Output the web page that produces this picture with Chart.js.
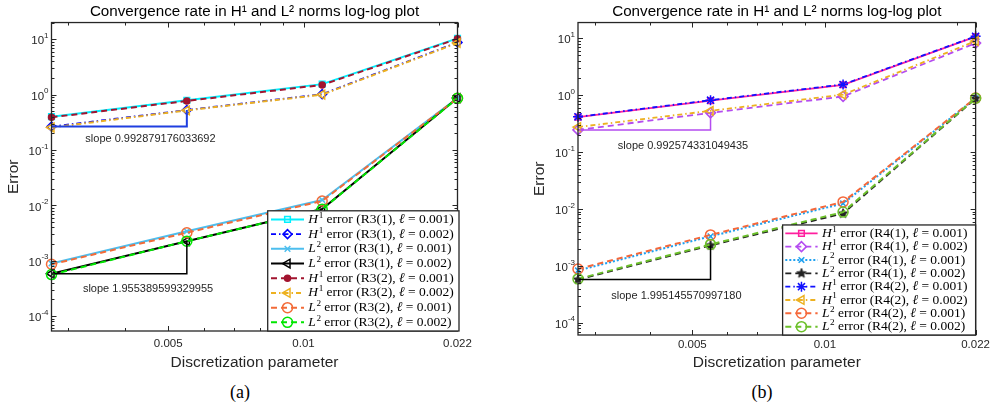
<!DOCTYPE html>
<html lang="en">
<head>
<meta charset="UTF-8">
<title>Convergence rate</title>
<script src="https://cdn.jsdelivr.net/npm/chart.js"></script>
<style>
  body { margin: 0; background: #fff; width: 993px; height: 412px; overflow: hidden; position: relative; }
  .panel { position: absolute; top: 0; height: 380px; }
  #pa { left: 0; width: 496px; }
  #pb { left: 496px; width: 497px; }
  .cap { position: absolute; top: 382px; width: 40px; text-align: center; line-height: 20px;
         font: 18px 'Liberation Serif', 'Times New Roman', serif; color: #000; }
</style>
</head>
<body>
<div class="panel" id="pa"><canvas id="chartA"></canvas></div>
<div class="panel" id="pb"><canvas id="chartB"></canvas></div>
<div class="cap" style="left:220px">(a)</div>
<div class="cap" style="left:742px">(b)</div>
<script>
// discretization parameter and tick labels
const h = [0.00275, 0.0055, 0.011, 0.022];
const xTickLabels = ['0.005', '0.01', '0.022'];
const yTickExps = [1, 0, -1, -2, -3, -4];

// (a) R3 errors
const labelsA = [
    'H¹ error (R3(1), ℓ = 0.001)',
    'H¹ error (R3(1), ℓ = 0.002)',
    'L² error (R3(1), ℓ = 0.001)',
    'L² error (R3(1), ℓ = 0.002)',
    'H¹ error (R3(2), ℓ = 0.001)',
    'H¹ error (R3(2), ℓ = 0.002)',
    'L² error (R3(2), ℓ = 0.001)',
    'L² error (R3(2), ℓ = 0.002)'
];
const r31H1_001 = [0.40, 0.79, 1.55, 10.4];
const r31H1_002 = [0.265, 0.527, 1.02, 8.8];
const r31L2_001 = [8.9e-4, 3.4e-3, 1.25e-2, 0.87];
const r31L2_002 = [5.8e-4, 2.25e-3, 8.6e-3, 0.87];
const r32H1_001 = [0.39, 0.77, 1.5, 10.2];
const r32H1_002 = [0.255, 0.52, 1.0, 8.6];
const r32L2_001 = [8.6e-4, 3.2e-3, 1.2e-2, 0.86];
const r32L2_002 = [5.6e-4, 2.25e-3, 8.5e-3, 0.86];
const slopeLabelsA = ['slope 0.992879176033692', 'slope 1.955389599329955'];

// (b) R4 errors
const labelsB = [
    'H¹ error (R4(1), ℓ = 0.001)',
    'H¹ error (R4(1), ℓ = 0.002)',
    'L² error (R4(1), ℓ = 0.001)',
    'L² error (R4(1), ℓ = 0.002)',
    'H¹ error (R4(2), ℓ = 0.001)',
    'H¹ error (R4(2), ℓ = 0.002)',
    'L² error (R4(2), ℓ = 0.001)',
    'L² error (R4(2), ℓ = 0.002)'
];
const r41H1_001 = [0.41, 0.80, 1.52, 10.7];
const r41H1_002 = [0.245, 0.488, 0.95, 8.2];
const r41L2_001 = [8.3e-4, 3.3e-3, 1.25e-2, 0.88];
const r41L2_002 = [5.75e-4, 2.29e-3, 8.3e-3, 0.87];
const r42H1_001 = [0.415, 0.815, 1.54, 10.8];
const r42H1_002 = [0.275, 0.53, 1.02, 8.9];
const r42L2_001 = [8.8e-4, 3.5e-3, 1.33e-2, 0.89];
const r42L2_002 = [5.9e-4, 2.38e-3, 8.8e-3, 0.88];
const slopeLabelsB = ['slope 0.992574331049435', 'slope 1.995145570997180'];

const SANS = "'Liberation Sans', Arial, Helvetica, sans-serif";
const SERIF = "'Liberation Serif', 'Times New Roman', serif";
const AX = '#262626';
const DASH = [6, 4], DASHDOT = [5, 3, 1.5, 3], DOT = [2, 2];

// filled pentagram marker
function pentagram(r, color) {
    const c = document.createElement('canvas');
    c.width = c.height = Math.ceil(2 * r + 2);
    const g = c.getContext('2d');
    g.translate(c.width / 2, c.height / 2);
    g.beginPath();
    for (let i = 0; i < 10; i++) {
        const a = -Math.PI / 2 + i * Math.PI / 5;
        const rr = i % 2 ? r * 0.42 : r;
        g.lineTo(rr * Math.cos(a), rr * Math.sin(a));
    }
    g.closePath();
    g.fillStyle = color; g.fill();
    g.strokeStyle = color; g.lineWidth = 1; g.stroke();
    return c;
}

function series(label, values, st) {
    return {
        label, inLegend: true,
        data: values.map((v, i) => ({x: h[i], y: v})),
        borderColor: st.c, borderWidth: st.w || 1.8, borderDash: st.dash || [],
        pointStyle: st.p, pointRadius: st.r || 4, pointRotation: st.rot || 0,
        pointBorderColor: st.c, pointBackgroundColor: st.fill || 'rgba(0,0,0,0)',
        pointBorderWidth: st.pw || 1.5, pointHoverRadius: 0,
        tension: 0, fill: false, clip: false
    };
}

// slope triangle from the first two points of a series
function slopeTri(values, color, w) {
    return {
        inLegend: false,
        data: [{x: h[0], y: values[0]}, {x: h[1], y: values[0]}, {x: h[1], y: values[1]}],
        borderColor: color, borderWidth: w, pointRadius: 0, fill: false, clip: false
    };
}

function logTicks(min, max) {
    const out = [];
    for (let e = Math.floor(Math.log10(min)); e <= Math.ceil(Math.log10(max)); e++) {
        for (let k = 1; k <= 9; k++) {
            const v = k * Math.pow(10, e);
            if (v >= min * 0.9999 && v <= max * 1.0001) out.push({value: v, major: k === 1});
        }
    }
    return out;
}

const xMajor = xTickLabels.map(Number);
const isXMajor = v => xMajor.some(m => Math.abs(m - v) / m < 1e-6);

function xTicks(min, max) {
    const t = logTicks(min, max).filter(t => !isXMajor(t.value)).map(t => ({value: t.value, major: false}));
    xMajor.forEach(v => t.push({value: v, major: true}));
    return t.sort((a, b) => a.value - b.value);
}

// frame, inward ticks and 10^n labels
const axesBox = {
    id: 'axesBox',
    afterDatasetsDraw(chart) {
        const {ctx, chartArea: a, scales: {x, y}} = chart;
        ctx.save();
        ctx.strokeStyle = AX;
        ctx.lineWidth = 1;
        ctx.beginPath();
        x.ticks.forEach(t => {
            const px = Math.round(x.getPixelForValue(t.value)) + 0.5;
            const len = t.major ? 5 : 3;
            ctx.moveTo(px, a.bottom); ctx.lineTo(px, a.bottom - len);
            ctx.moveTo(px, a.top); ctx.lineTo(px, a.top + len);
        });
        y.ticks.forEach(t => {
            const py = Math.round(y.getPixelForValue(t.value)) + 0.5;
            const len = t.major ? 5 : 3;
            ctx.moveTo(a.left, py); ctx.lineTo(a.left + len, py);
            ctx.moveTo(a.right, py); ctx.lineTo(a.right - len, py);
        });
        ctx.stroke();
        ctx.lineWidth = 1.3;
        ctx.strokeRect(a.left, a.top, a.right - a.left, a.bottom - a.top);

        ctx.fillStyle = AX;
        ctx.textAlign = 'right';
        ctx.textBaseline = 'middle';
        yTickExps.forEach(e => {
            const py = y.getPixelForValue(Math.pow(10, e));
            const sup = e < 0 ? '-' + (-e) : String(e);
            const xr = a.left - 3;
            ctx.font = '8px ' + SANS;
            const sw = ctx.measureText(sup).width;
            ctx.fillText(sup, xr, py - 3.5);
            ctx.font = '11.5px ' + SANS;
            ctx.fillText('10', xr - sw, py + 2);
        });
        ctx.restore();
    }
};

function slopeText(items) {
    return {
        id: 'slopeText',
        afterDatasetsDraw(chart) {
            const {ctx, scales: {x, y}} = chart;
            ctx.save();
            ctx.fillStyle = AX;
            ctx.font = '11px ' + SANS;
            ctx.textAlign = 'left';
            ctx.textBaseline = 'middle';
            items.forEach(it => ctx.fillText(it.text, x.getPixelForValue(it.x), y.getPixelForValue(it.y)));
            ctx.restore();
        }
    };
}

function drawLabel(ctx, s, x, y, size) {
    ctx.fillStyle = '#000';
    ctx.textAlign = 'left';
    ctx.textBaseline = 'middle';
    ctx.font = 'italic ' + size + 'px ' + SERIF;
    ctx.fillText(s[0], x, y);
    x += ctx.measureText(s[0]).width + 0.6;
    const sup = s[1] === '¹' ? '1' : '2';
    ctx.font = (size * 0.68) + 'px ' + SERIF;
    ctx.fillText(sup, x, y - size * 0.3);
    x += ctx.measureText(sup).width;
    const parts = s.slice(2).split('ℓ');
    ctx.font = size + 'px ' + SERIF;
    ctx.fillText(parts[0], x, y);
    x += ctx.measureText(parts[0]).width;
    ctx.font = 'italic ' + size + 'px ' + SERIF;
    ctx.fillText('ℓ', x, y);
    x += ctx.measureText('ℓ').width;
    ctx.font = size + 'px ' + SERIF;
    ctx.fillText(parts[1], x, y);
}

function boxLegend(o) {
    return {
        id: 'boxLegend',
        afterDraw(chart) {
            const {ctx, chartArea: a} = chart;
            const items = chart.data.datasets.filter(d => d.inLegend);
            const hgt = items.length * o.rowH + 2 * o.pad;
            const left = a.right + o.dxRight - o.width;
            const top = a.bottom - hgt;
            ctx.save();
            ctx.fillStyle = '#fff';
            ctx.fillRect(left, top, o.width, hgt);
            ctx.strokeStyle = AX;
            ctx.lineWidth = 1.3;
            ctx.strokeRect(left, top, o.width, hgt);
            items.forEach((d, i) => {
                const cy = top + o.pad + o.rowH * (i + 0.5);
                ctx.strokeStyle = d.borderColor;
                ctx.lineWidth = d.borderWidth;
                ctx.setLineDash(d.borderDash || []);
                ctx.beginPath();
                ctx.moveTo(left + o.s0, cy);
                ctx.lineTo(left + o.s1, cy);
                ctx.stroke();
                ctx.setLineDash([]);
                ctx.lineWidth = d.pointBorderWidth;
                ctx.strokeStyle = d.pointBorderColor;
                ctx.fillStyle = d.pointBackgroundColor;
                Chart.helpers.drawPoint(ctx, {
                    pointStyle: d.pointStyle, rotation: d.pointRotation, radius: d.pointRadius,
                    borderWidth: d.pointBorderWidth
                }, left + (o.s0 + o.s1) / 2, cy);
                drawLabel(ctx, d.label, left + o.textX, cy, o.fontSize);
            });
            ctx.restore();
        }
    };
}

function buildChart(id, datasets, cfg) {
    datasets.forEach((d, i) => { d.order = datasets.length - i; });
    return new Chart(document.getElementById(id), {
        type: 'line',
        data: {datasets},
        options: {
            responsive: true,
            maintainAspectRatio: false,
            animation: false,
            events: [],
            layout: {padding: {left: cfg.padLeft, right: cfg.padRight, top: 0, bottom: 0}},
            plugins: {
                legend: {display: false},
                tooltip: {enabled: false},
                title: {
                    display: true, fullSize: false,
                    text: 'Convergence rate in H¹ and L² norms log-log plot',
                    color: '#000', font: {family: SANS, size: 15.2, weight: 'normal'},
                    padding: {top: 3, bottom: 1.3}
                }
            },
            scales: {
                x: {
                    type: 'logarithmic', min: h[0], max: h[h.length - 1],
                    grid: {display: false, drawTicks: false},
                    border: {display: false},
                    ticks: {
                        autoSkip: false, maxRotation: 0, padding: cfg.xTickPad, color: AX,
                        font: {family: SANS, size: 11.5},
                        callback: v => {
                            const i = xMajor.findIndex(m => Math.abs(m - v) / m < 1e-6);
                            return i >= 0 ? xTickLabels[i] : '';
                        }
                    },
                    afterBuildTicks: s => { s.ticks = xTicks(h[0], h[h.length - 1]); },
                    afterFit: s => { s.height = cfg.xAxisH; },
                    title: {
                        display: true, text: 'Discretization parameter', color: AX,
                        font: {family: SANS, size: 15.5}, padding: {top: 0, bottom: cfg.xTitlePad}
                    }
                },
                y: {
                    type: 'logarithmic', min: cfg.yMin, max: cfg.yMax,
                    grid: {display: false, drawTicks: false},
                    border: {display: false},
                    ticks: {display: false},
                    afterBuildTicks: s => { s.ticks = logTicks(cfg.yMin, cfg.yMax); },
                    afterFit: s => { s.width = cfg.yAxisW; },
                    title: {
                        display: true, text: 'Error', color: AX,
                        font: {family: SANS, size: 15.5}, padding: {top: 4.4, bottom: 0}
                    }
                }
            }
        },
        plugins: [axesBox, slopeText(cfg.slopes), boxLegend(cfg.legend)]
    });
}

// panel (a)
const dsA = [
    series(labelsA[0], r31H1_001, {c: '#00F0FF', w: 2, p: 'rect', r: 4}),
    series(labelsA[1], r31H1_002, {c: '#0000FF', w: 1.8, dash: DASHDOT, p: 'rectRot', r: 4.5}),
    series(labelsA[2], r31L2_001, {c: '#4DBEEE', w: 2, p: 'crossRot', r: 4}),
    series(labelsA[3], r31L2_002, {c: '#000000', w: 2, p: 'triangle', rot: -90, r: 5}),
    series(labelsA[4], r32H1_001, {c: '#A2142F', w: 2, dash: DASH, p: 'circle', r: 3, fill: '#A2142F'}),
    series(labelsA[5], r32H1_002, {c: '#EDB120', w: 2, dash: DASHDOT, p: 'triangle', rot: -90, r: 5}),
    series(labelsA[6], r32L2_001, {c: '#F26B38', w: 2, dash: DASH, p: 'circle', r: 5}),
    series(labelsA[7], r32L2_002, {c: '#00E600', w: 2, dash: DASH, p: 'circle', r: 5})
];
dsA.push(slopeTri(r31H1_002, '#1F3FE0', 2), slopeTri(r31L2_002, '#000000', 1.5));

buildChart('chartA', dsA, {
    padLeft: 0, yAxisW: 51.5, padRight: 38.5, xAxisH: 49, xTickPad: 6, xTitlePad: 8.4,
    yMin: 5.36e-5, yMax: 20.1,
    slopes: [
        {text: slopeLabelsA[0], x: 0.00327, y: 0.1556},
        {text: slopeLabelsA[1], x: 0.00323, y: 3.14e-4}
    ],
    legend: {width: 191.3, rowH: 14.7, pad: 1.3, dxRight: 1.5, s0: 3.3, s1: 36.3, textX: 40.6, fontSize: 13.5}
});

// panel (b)
const dsB = [
    series(labelsB[0], r41H1_001, {c: '#FF1F9E', w: 1.8, p: 'rect', r: 4}),
    series(labelsB[1], r41H1_002, {c: '#B44CF0', w: 1.8, dash: DASH, p: 'rectRot', r: 5}),
    series(labelsB[2], r41L2_001, {c: '#1EA0F0', w: 2, dash: DOT, p: 'crossRot', r: 4}),
    series(labelsB[3], r41L2_002, {c: '#222222', w: 1.8, dash: DASH, p: pentagram(5, '#222222'), r: 5}),
    series(labelsB[4], r42H1_001, {c: '#1010FF', w: 1.8, dash: DASHDOT, p: 'star', r: 5}),
    series(labelsB[5], r42H1_002, {c: '#EDB120', w: 1.8, dash: DASHDOT, p: 'triangle', rot: -90, r: 5}),
    series(labelsB[6], r42L2_001, {c: '#F5683A', w: 2, dash: DASH, p: 'circle', r: 5}),
    series(labelsB[7], r42L2_002, {c: '#6CC02A', w: 2, dash: DASH, p: 'circle', r: 5})
];
dsB.push(slopeTri(r41H1_002, '#B44CF0', 1.5), slopeTri(r41L2_002, '#000000', 1.5));

buildChart('chartB', dsB, {
    padLeft: 30.3, yAxisW: 51.7, padRight: 13, xAxisH: 45, xTickPad: 3, xTitlePad: 7.5,
    yMin: 6.1e-5, yMax: 18.85,
    slopes: [
        {text: slopeLabelsB[0], x: 0.003387, y: 0.126},
        {text: slopeLabelsB[1], x: 0.003273, y: 2.94e-4}
    ],
    legend: {width: 193, rowH: 13.33, pad: 1.7, dxRight: 0, s0: 2.7, s1: 35, textX: 39.3, fontSize: 13.5}
});
</script>
</body>
</html>
